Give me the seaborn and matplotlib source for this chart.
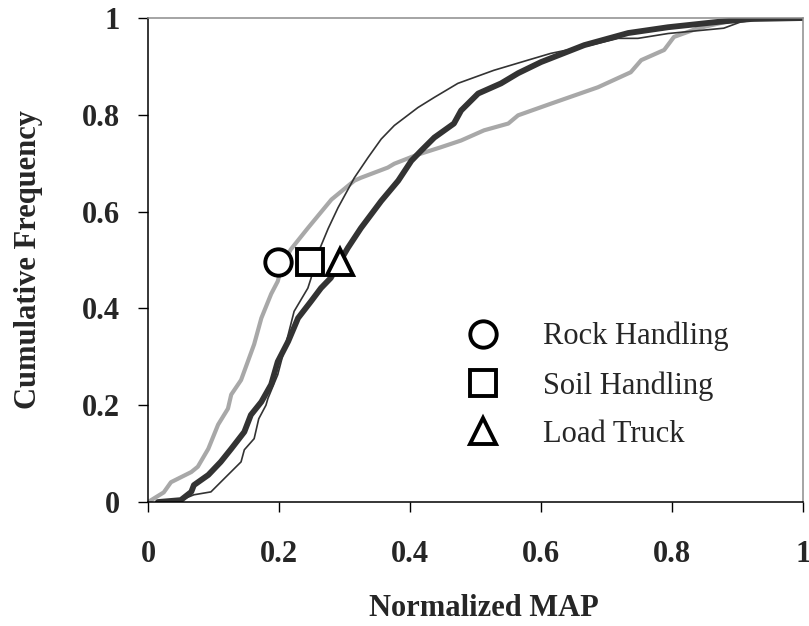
import matplotlib
matplotlib.use("Agg")
import matplotlib.pyplot as plt
from matplotlib.lines import Line2D
import numpy as np
import pandas as pd
import seaborn as sns

# curves (x = normalized MAP, y = cumulative frequency)
rock_x = [0.0, 0.012, 0.024, 0.035, 0.066, 0.076, 0.092, 0.107, 0.122, 0.127,
          0.142, 0.162, 0.173, 0.188, 0.198, 0.205, 0.218, 0.244, 0.28, 0.315,
          0.325, 0.366, 0.376, 0.41, 0.447, 0.478, 0.513, 0.55, 0.565, 0.615,
          0.687, 0.737, 0.753, 0.788, 0.803, 0.84, 0.895, 0.95, 1.0]
rock_y = [0.0, 0.01, 0.02, 0.041, 0.062, 0.073, 0.11, 0.16, 0.193, 0.222,
          0.252, 0.326, 0.38, 0.43, 0.456, 0.49, 0.522, 0.566, 0.625, 0.664,
          0.67, 0.691, 0.699, 0.717, 0.733, 0.747, 0.768, 0.782, 0.799, 0.823,
          0.857, 0.888, 0.913, 0.934, 0.961, 0.979, 0.996, 1.0, 1.0]

soil_x = [0.02, 0.05, 0.07, 0.096, 0.116, 0.142, 0.147, 0.162, 0.169, 0.18,
          0.183, 0.198, 0.214, 0.223, 0.244, 0.249, 0.255, 0.267, 0.275, 0.29,
          0.315, 0.336, 0.356, 0.376, 0.412, 0.437, 0.473, 0.528, 0.58, 0.615,
          0.676, 0.718, 0.748, 0.794, 0.879, 0.905, 0.95, 1.0]
soil_y = [0.0, 0.004, 0.015, 0.021, 0.048, 0.083, 0.108, 0.131, 0.172, 0.2,
          0.214, 0.263, 0.346, 0.394, 0.442, 0.463, 0.5, 0.539, 0.565, 0.608,
          0.67, 0.712, 0.75, 0.778, 0.815, 0.836, 0.865, 0.892, 0.913, 0.927,
          0.944, 0.958, 0.958, 0.968, 0.979, 0.992, 1.0, 1.0]

truck_x = [0.015, 0.05, 0.066, 0.07, 0.092, 0.111, 0.127, 0.147, 0.157, 0.173,
           0.188, 0.198, 0.214, 0.229, 0.249, 0.264, 0.279, 0.29, 0.305, 0.325,
           0.356, 0.382, 0.402, 0.417, 0.437, 0.467, 0.478, 0.504, 0.539, 0.565,
           0.6, 0.666, 0.733, 0.794, 0.87, 0.921, 1.0]
truck_y = [0.0, 0.004, 0.021, 0.035, 0.056, 0.083, 0.11, 0.145, 0.18, 0.207,
           0.243, 0.29, 0.332, 0.38, 0.415, 0.442, 0.463, 0.49, 0.525, 0.566,
           0.622, 0.664, 0.705, 0.726, 0.753, 0.782, 0.809, 0.844, 0.865, 0.886,
           0.909, 0.944, 0.969, 0.981, 0.992, 0.998, 1.0]

# median markers
series = ["Rock Handling", "Soil Handling", "Load Truck"]
median_x = [0.199, 0.247, 0.293]
median_y = [0.495, 0.495, 0.495]
marker_shapes = ["o", "s", "^"]

ticks = [0, 0.2, 0.4, 0.6, 0.8, 1]
tick_labels = ["0", "0.2", "0.4", "0.6", "0.8", "1"]

sns.set_theme(style="white")
plt.rcParams["font.family"] = ["Liberation Serif", "DejaVu Serif"]

fig = plt.figure(figsize=(8.09, 6.26), dpi=100)
ax = fig.add_axes([0.183, 0.198, 0.8096, 0.7732])

sns.lineplot(x=rock_x, y=rock_y, ax=ax, sort=False, estimator=None,
             color="#a8a8a8", linewidth=3.0)
sns.lineplot(x=soil_x, y=soil_y, ax=ax, sort=False, estimator=None,
             color="#333333", linewidth=1.2)
sns.lineplot(x=truck_x, y=truck_y, ax=ax, sort=False, estimator=None,
             color="#333333", linewidth=4.2)

for mx, my, m in zip(median_x, median_y, marker_shapes):
    ax.plot(mx, my, marker=m, markersize=19, markerfacecolor="white",
            markeredgecolor="black", markeredgewidth=2.8, linestyle="none",
            zorder=5)

ax.set_xlim(0, 1)
ax.set_ylim(0, 1)
ax.set_xticks(ticks)
ax.set_xticklabels(tick_labels)
ax.set_yticks(ticks)
ax.set_yticklabels(tick_labels)
ax.tick_params(axis="both", direction="out", length=7, width=1,
               color="black", labelsize=22)
ax.tick_params(axis="x", pad=20, bottom=True)
ax.tick_params(axis="y", pad=13, left=True)
for lab in ax.get_xticklabels() + ax.get_yticklabels():
    lab.set_fontweight("bold")

ax.set_xlabel("Normalized MAP", fontsize=22, fontweight="bold", labelpad=18)
ax.xaxis.label.set_x(0.512)
ax.set_ylabel("Cumulative Frequency", fontsize=22, fontweight="bold",
              labelpad=28)

ax.spines["left"].set_color("black")
ax.spines["bottom"].set_color("black")
ax.spines["top"].set_color("#8c8c8c")
ax.spines["right"].set_color("#8c8c8c")
for sp in ax.spines.values():
    sp.set_linewidth(1.1)
    sp.set_visible(True)
ax.grid(False)

handles = [Line2D([], [], marker=m, markersize=19, markerfacecolor="white",
                  markeredgecolor="black", markeredgewidth=2.8,
                  linestyle="none") for m in marker_shapes]
ax.legend(handles, series, loc="upper left", bbox_to_anchor=(0.484, 0.372),
          frameon=False, fontsize=22, handlelength=1.2, handletextpad=1.35,
          labelspacing=0.64, borderpad=0, borderaxespad=0)

fig.savefig("out.png", dpi=100)
